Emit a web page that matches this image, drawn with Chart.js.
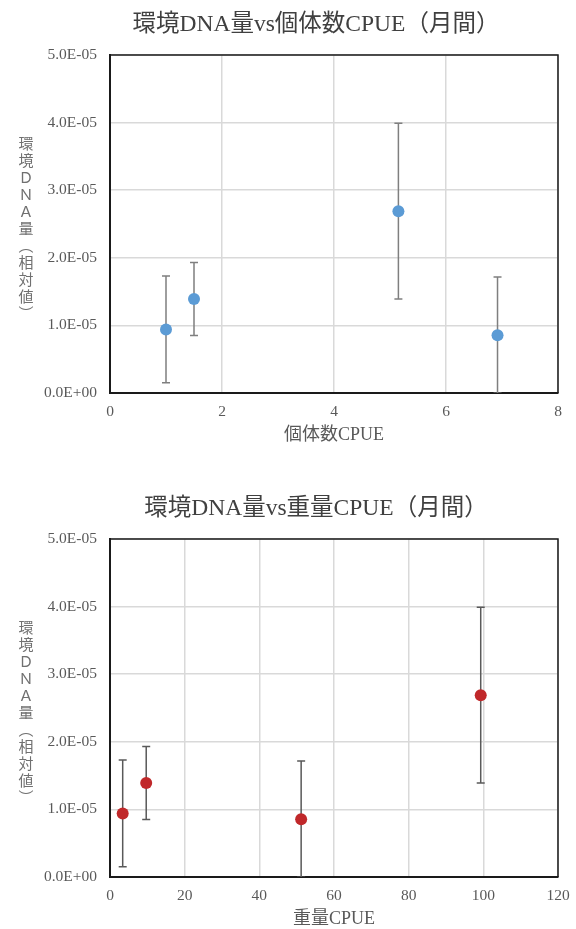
<!DOCTYPE html>
<html lang="ja">
  <head>
    <meta charset="UTF-8" />
    <title>環境DNA量 vs CPUE</title>
    <script src="https://cdn.jsdelivr.net/npm/chart.js"></script>
    <style>
      body { margin: 0; background: #fff; overflow: hidden; }
      canvas { position: absolute; left: 0; display: block; }
    </style>
  </head>
  <body>
    <canvas id="chartCount" width="576" height="450" style="top: 0"></canvas>
    <canvas id="chartWeight" width="576" height="450" style="top: 484px"></canvas>

    <script>
      // 値はグラフから読み取り（サンプル順）
      const countCPUE = [1.0, 1.5, 5.15, 6.92];
      const weightCPUE = [3.4, 9.7, 99.3, 51.2];
      const dnaAmount = [0.94e-5, 1.39e-5, 2.69e-5, 0.855e-5];
      const dnaError = [0.79e-5, 0.54e-5, 1.3e-5, 0.86e-5];

      const yTicks = [0, 1e-5, 2e-5, 3e-5, 4e-5, 5e-5];
      const countTicks = [0, 2, 4, 6, 8];
      const weightTicks = [0, 20, 40, 60, 80, 100, 120];

      const yTitle = ["環", "境", "Ｄ", "Ｎ", "Ａ", "量", "︵", "相", "対", "値", "︶"];

      const FONT = '"Liberation Serif", "Noto Sans CJK JP", serif';

      // 0.0E+00 形式
      const sci = (v) => {
        if (v === 0) return "0.0E+00";
        const [m, e] = v.toExponential(1).split("e");
        const n = parseInt(e, 10);
        return m + "E" + (n < 0 ? "-" : "+") + String(Math.abs(n)).padStart(2, "0");
      };

      const errorBars = {
        id: "errorBars",
        beforeDatasetsDraw(chart, args, opts) {
          const ctx = chart.ctx;
          const y = chart.scales.y;
          const meta = chart.getDatasetMeta(0);
          const area = chart.chartArea;
          ctx.save();
          ctx.beginPath();
          ctx.rect(area.left, area.top, area.right - area.left, area.bottom - area.top);
          ctx.clip();
          ctx.strokeStyle = opts.color;
          ctx.lineWidth = 1.5;
          meta.data.forEach((pt, i) => {
            const v = chart.data.datasets[0].data[i].y;
            const top = y.getPixelForValue(v + opts.errors[i]);
            const bot = y.getPixelForValue(v - opts.errors[i]);
            ctx.beginPath();
            ctx.moveTo(pt.x, top);
            ctx.lineTo(pt.x, bot);
            ctx.moveTo(pt.x - 4, top);
            ctx.lineTo(pt.x + 4, top);
            ctx.moveTo(pt.x - 4, bot);
            ctx.lineTo(pt.x + 4, bot);
            ctx.stroke();
          });
          ctx.restore();
        },
        afterDraw(chart, args, opts) {
          const ctx = chart.ctx;
          const a = chart.chartArea;
          ctx.save();
          // 枠線（上・右）
          ctx.strokeStyle = "#1a1a1a";
          ctx.lineWidth = 1.5;
          ctx.beginPath();
          ctx.moveTo(a.left, a.top);
          ctx.lineTo(a.right, a.top);
          ctx.lineTo(a.right, a.bottom);
          ctx.stroke();
          // タイトル
          ctx.fillStyle = "#404040";
          ctx.font = "23.5px " + FONT;
          ctx.textAlign = "center";
          ctx.textBaseline = "middle";
          ctx.fillText(opts.title, 316, 25);
          // 縦書きの軸タイトル
          ctx.fillStyle = "#707070";
          ctx.font = "15px " + FONT;
          yTitle.forEach((ch, i) => ctx.fillText(ch, 26, 145 + i * 17));
          ctx.restore();
        },
      };

      const makeChart = (id, xs, ticks, color, barColor, title, xTitle) => {
        const points = xs.map((x, i) => ({ x: x, y: dnaAmount[i] }));
        return new Chart(document.getElementById(id), {
          type: "scatter",
          data: {
            datasets: [
              {
                data: points,
                backgroundColor: color,
                borderColor: color,
                pointRadius: 6,
                pointHoverRadius: 6,
                borderWidth: 0,
              },
            ],
          },
          options: {
            responsive: false,
            animation: false,
            layout: { padding: { left: 0, right: 18, top: 55, bottom: 0 } },
            plugins: {
              legend: { display: false },
              tooltip: { enabled: false },
              title: { display: false },
              errorBars: { errors: dnaError, color: barColor, title: title },
            },
            scales: {
              x: {
                type: "linear",
                min: ticks[0],
                max: ticks[ticks.length - 1],
                afterBuildTicks: (s) => { s.ticks = ticks.map((v) => ({ value: v })); },
                afterFit: (s) => { s.height = 57; s.paddingLeft = 0; s.paddingRight = 0; },
                grid: { color: "#d9d9d9", lineWidth: 1.5, drawTicks: false },
                border: { color: "#1a1a1a", width: 2 },
                ticks: {
                  padding: 10,
                  color: "#595959",
                  font: { family: FONT, size: 15.5 },
                },
                title: {
                  display: true,
                  text: xTitle,
                  color: "#595959",
                  font: { family: FONT, size: 18 },
                  padding: { top: 0, bottom: 4 },
                },
              },
              y: {
                min: yTicks[0],
                max: yTicks[yTicks.length - 1],
                afterBuildTicks: (s) => { s.ticks = yTicks.map((v) => ({ value: v })); },
                afterFit: (s) => { s.width = 110; s.paddingTop = 0; s.paddingBottom = 0; },
                grid: { color: "#d9d9d9", lineWidth: 1.5, drawTicks: false },
                border: { color: "#1a1a1a", width: 2 },
                ticks: {
                  padding: 13,
                  color: "#595959",
                  font: { family: FONT, size: 15.5 },
                  callback: (v) => sci(v),
                },
              },
            },
          },
          plugins: [errorBars],
        });
      };

      makeChart("chartCount", countCPUE, countTicks, "#5b9bd5", "#7f7f7f",
        "環境DNA量vs個体数CPUE（月間）", "個体数CPUE");
      makeChart("chartWeight", weightCPUE, weightTicks, "#c0282a", "#595959",
        "環境DNA量vs重量CPUE（月間）", "重量CPUE");
    </script>
  </body>
</html>
